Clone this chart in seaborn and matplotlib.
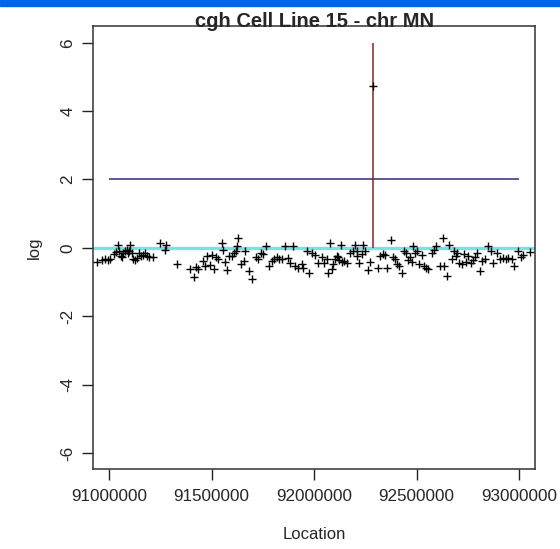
import numpy as np
import pandas as pd
import matplotlib
matplotlib.use("Agg")
import matplotlib.pyplot as plt
from matplotlib.patches import Rectangle
import seaborn as sns

# probe locations (kb) and log ratios
location_kb = [
    90941, 90963, 90979, 90995, 91003, 91023, 91033, 91044, 91049, 91056,
    91061, 91068, 91077, 91085, 91090, 91098, 91103, 91109, 91117, 91125,
    91134, 91146, 91153, 91163, 91174, 91183, 91195, 91215, 91248, 91272,
    91277, 91332, 91394, 91414, 91423, 91435, 91456, 91467, 91476, 91492,
    91500, 91511, 91521, 91532, 91549, 91557, 91565, 91576, 91586, 91598,
    91609, 91619, 91625, 91630, 91641, 91658, 91662, 91683, 91695, 91716,
    91727, 91739, 91752, 91765, 91781, 91793, 91804, 91817, 91830, 91842,
    91858, 91874, 91882, 91898, 91907, 91923, 91939, 91947, 91964, 91976,
    91988, 92004, 92020, 92037, 92048, 92061, 92069, 92077, 92086, 92094,
    92102, 92110, 92118, 92123, 92130, 92135, 92146, 92159, 92175, 92188,
    92199, 92208, 92211, 92220, 92232, 92240, 92248, 92264, 92273, 92286,
    92313, 92321, 92335, 92346, 92357, 92374, 92383, 92395, 92406, 92416,
    92427, 92439, 92448, 92460, 92468, 92476, 92484, 92492, 92504, 92513,
    92525, 92536, 92546, 92557, 92574, 92585, 92595, 92614, 92628, 92634,
    92647, 92660, 92671, 92683, 92692, 92699, 92709, 92720, 92732, 92741,
    92753, 92764, 92774, 92785, 92796, 92810, 92818, 92834, 92850, 92862,
    92875, 92891, 92907, 92923, 92937, 92948, 92964, 92976, 92997, 93008,
    93018, 93054,
]
log_ratio = [
    -0.42, -0.36, -0.32, -0.36, -0.34, -0.17, -0.13, 0.07, -0.10, -0.25,
    -0.26, -0.15, -0.10, -0.07, -0.15, -0.10, 0.07, -0.15, -0.32, -0.36,
    -0.29, -0.15, -0.23, -0.20, -0.15, -0.25, -0.26, -0.26, 0.15, -0.07,
    0.07, -0.46, -0.62, -0.85, -0.56, -0.62, -0.39, -0.54, -0.25, -0.49,
    -0.20, -0.62, -0.26, -0.32, 0.15, -0.07, -0.40, -0.65, -0.25, -0.23,
    -0.15, -0.10, 0.05, 0.29, -0.46, -0.39, -0.10, -0.68, -0.91, -0.26,
    -0.34, -0.15, -0.17, 0.05, -0.52, -0.39, -0.32, -0.26, -0.32, -0.32,
    0.05, -0.29, -0.44, 0.05, -0.52, -0.59, -0.46, -0.59, -0.10, -0.75,
    -0.15, -0.20, -0.44, -0.26, -0.44, -0.32, -0.73, 0.15, -0.63, -0.46,
    -0.32, -0.23, -0.26, -0.36, 0.07, -0.42, -0.39, -0.44, -0.15, -0.10,
    0.07, -0.23, -0.10, -0.44, -0.17, 0.07, -0.10, -0.65, -0.42, 4.73,
    -0.59, -0.23, -0.17, -0.20, -0.59, 0.24, -0.26, -0.32, -0.46, -0.52,
    -0.73, -0.10, -0.15, -0.36, -0.26, -0.42, 0.05, -0.15, -0.10, -0.46,
    -0.20, -0.54, -0.59, -0.62, -0.15, -0.07, 0.05, -0.54, 0.29, -0.52,
    -0.83, 0.07, -0.34, -0.10, -0.23, -0.15, -0.44, -0.46, -0.17, -0.42,
    -0.25, -0.44, -0.36, -0.26, -0.15, -0.68, -0.39, -0.34, 0.05, -0.10,
    -0.44, -0.15, -0.32, -0.29, -0.32, -0.29, -0.32, -0.52, -0.10, -0.26,
    -0.20, -0.13,
]

threshold = 2
peak_loc = 92286000
peak_top = 6
x_ticks = [91000000, 91500000, 92000000, 92500000, 93000000]
y_ticks = [-6, -4, -2, 0, 2, 4, 6]

df = pd.DataFrame({"Location": np.array(location_kb) * 1000, "log": log_ratio})

sns.set_style("white")
plt.rcParams["font.family"] = ["Liberation Sans", "DejaVu Sans"]

fig = plt.figure(figsize=(5.6, 5.49), dpi=100)
ax = fig.add_axes([0.1666, 0.1452, 0.7888, 0.808])

sns.scatterplot(data=df, x="Location", y="log", marker="+", color="black",
                s=32, linewidth=1.0, ax=ax, zorder=3)

ax.axhline(0, color="#78e2e2", linewidth=2.4, zorder=2)
ax.hlines(threshold, x_ticks[0], x_ticks[-1], color="#2e2e78", linewidth=1.1)
ax.vlines(peak_loc, 0, peak_top, color="#8e2020", linewidth=1.1)

ax.set_xlim(90922000, 93078000)
ax.set_ylim(-6.48, 6.5)
ax.set_xticks(x_ticks)
ax.set_xticklabels([str(t) for t in x_ticks], fontsize=12.3)
ax.set_yticks(y_ticks)
ax.set_yticklabels([str(t) for t in y_ticks], fontsize=12.3, rotation=90, va="center")
ax.tick_params(axis="both", direction="out", length=8, width=1, color="#222222",
               pad=6, left=True, bottom=True)
ax.tick_params(axis="y", pad=5)

for s in ax.spines.values():
    s.set_color("#333333")
    s.set_linewidth(1.1)

ax.set_xlabel("Location", fontsize=12, labelpad=17)
ax.set_ylabel("log", fontsize=12, labelpad=13)
ax.set_title("cgh Cell Line 15 - chr MN", fontsize=14.5, fontweight="bold", pad=-1)

fig.patches.append(Rectangle((0, 1 - 6 / 549), 1, 6 / 549, transform=fig.transFigure,
                             color="#0064f0", zorder=10))

fig.savefig("out.png", dpi=100)
